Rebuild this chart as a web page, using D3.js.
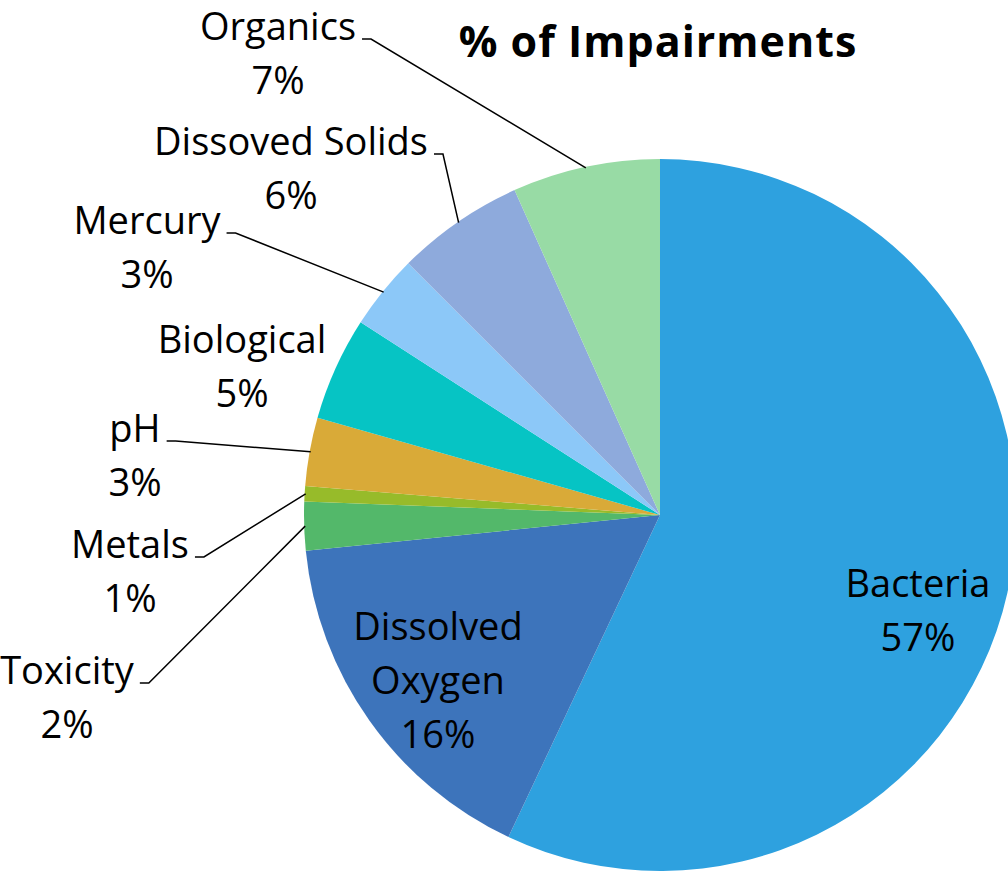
<!DOCTYPE html>
<html>
<head>
<meta charset="utf-8">
<script src="https://cdn.jsdelivr.net/npm/d3@7"></script>
<style>
  body { margin: 0; background: #fff; }
  svg text { font-family: "Open Sans", Lato, sans-serif; fill: #000; }
</style>
</head>
<body>
<script>
var categories = ['Bacteria', 'Dissolved Oxygen', 'Toxicity', 'Metals', 'pH', 'Biological', 'Mercury', 'Dissoved Solids', 'Organics'];
var values = [57.0, 16.4, 2.2, 0.7, 3.1, 4.7, 3.4, 5.8, 6.7];
var colors = ['#2ea1df', '#3d74bb', '#53b86a', '#97bb2a', '#d9aa38', '#06c4c4', '#8cc8f8', '#8eaadc', '#98dba5'];

// label layout (centre x, first baseline, leader line?)
var labelPos = [
  { x: 918, y: 597 },
  { x: 438, y: 640, lines: ['Dissolved', 'Oxygen'] },
  { x: 67, y: 684, leader: true },
  { x: 130, y: 558, leader: true },
  { x: 135, y: 442, leader: true },
  { x: 242, y: 353 },
  { x: 147, y: 234, leader: true },
  { x: 291, y: 155, leader: true },
  { x: 278, y: 40, leader: true }
];

var W = 1008, H = 873;
var cx = 660, cy = 515, r = 356;
var fontSize = 38, lineH = 54;

var svg = d3.select('body').append('svg').attr('width', W).attr('height', H);

svg.append('text')
  .attr('x', 658).attr('y', 57)
  .attr('text-anchor', 'middle')
  .style('font-size', '43px').style('font-weight', 'bold')
  .style('letter-spacing', '1px')
  .text('% of Impairments');

var total = d3.sum(values);
var fmt = d3.format('.0%');

var pie = d3.pie().sort(null).value(function(d){ return d; });
var arcs = pie(values);
var arc = d3.arc().innerRadius(0).outerRadius(r);

var g = svg.append('g').attr('transform', 'translate(' + cx + ',' + cy + ')');

g.selectAll('path')
  .data(arcs)
  .enter()
  .append('path')
  .attr('d', arc)
  .attr('fill', function(d, i){ return colors[i]; });

var labels = svg.selectAll('g.label')
  .data(arcs)
  .enter()
  .append('g')
  .attr('class', 'label');

labels.each(function(d, i){
  var p = labelPos[i];
  var lines = (p.lines || [categories[i]]).concat([fmt(values[i] / total)]);
  var t = d3.select(this).append('text')
    .attr('text-anchor', 'middle')
    .style('font-size', fontSize + 'px');
  lines.forEach(function(s, k){
    t.append('tspan').attr('x', p.x).attr('y', p.y + k * lineH).text(s);
  });

  if (p.leader) {
    var first = t.select('tspan').node();
    var x0 = p.x + first.getComputedTextLength() / 2 + 6;
    var y0 = p.y - 1;
    var mid = (d.startAngle + d.endAngle) / 2;
    var ex = cx + Math.sin(mid) * (r - 1);
    var ey = cy - Math.cos(mid) * (r - 1);
    d3.select(this).append('path')
      .attr('d', d3.line()([[x0, y0], [x0 + 9, y0], [ex, ey]]))
      .attr('fill', 'none')
      .attr('stroke', '#000')
      .attr('stroke-width', 1.5);
  }
});
</script>
</body>
</html>
